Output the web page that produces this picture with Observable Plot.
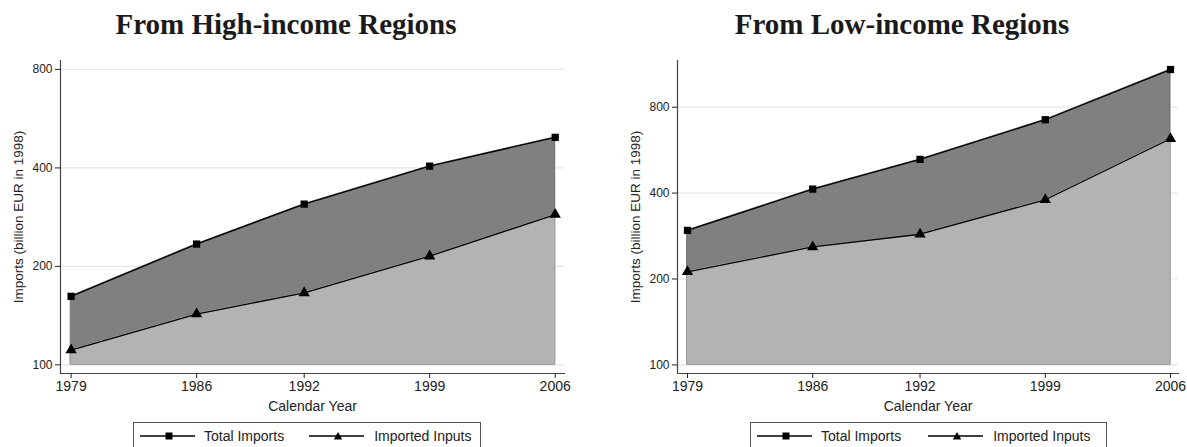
<!DOCTYPE html>
<html><head><meta charset="utf-8">
<script src="https://cdn.jsdelivr.net/npm/d3@7"></script>
<script src="https://cdn.jsdelivr.net/npm/@observablehq/plot@0.6"></script>
<style>
html,body{margin:0;padding:0;background:#fff;}
body{width:1187px;height:447px;overflow:hidden;position:relative;font-family:"Liberation Sans",Arial,sans-serif;color:#222;}
.panel{position:absolute;top:0;}
.title{position:absolute;top:10px;line-height:1;font-family:"Liberation Serif","Times New Roman",serif;font-weight:bold;font-size:29px;color:#1a1a1a;white-space:nowrap;transform:translateX(-50%);}
.legend{position:absolute;top:422px;height:34px;border:1px solid #555;box-sizing:border-box;display:flex;align-items:flex-start;padding-top:4px;background:#fff;font-size:14px;color:#222;}
.legend .item{display:flex;align-items:center;height:18px;}
.legend svg{display:block;}
g[aria-label="y-axis label"] text{font-size:13.5px;}
</style>
</head><body>
<div id="root"></div>
<script>
const years = [1979, 1986, 1992, 1999, 2006];
const highTotal = [162, 234, 310, 405, 496];
const highInputs = [111, 143, 166, 215, 288];
const lowTotal = [296, 413, 525, 723, 1084];
const lowInputs = [212, 259, 287, 379, 620];
const yTicks = [100, 200, 400, 800];
const titles = ["From High-income Regions", "From Low-income Regions"];
const seriesNames = ["Total Imports", "Imported Inputs"];
const yLabel = "Imports (billion EUR in 1998)";
const xLabel = "Calendar Year";

function makePanel(total, inputs, cfg) {
  const data = years.map((y, i) => ({year: y, total: total[i], inputs: inputs[i]}));
  return Plot.plot({
    width: cfg.width, height: 420,
    marginLeft: 60, marginRight: cfg.marginRight, marginTop: 60, marginBottom: 47,
    x: {domain: [years[0], years[years.length - 1]], insetLeft: cfg.insetLeft, insetRight: cfg.insetRight},
    y: {type: "log", domain: cfg.yDomain},
    style: {fontFamily: "'Liberation Sans', Arial, sans-serif", color: "#222", background: "transparent", overflow: "visible"},
    marks: [
      Plot.gridY(yTicks, {stroke: "#e6e6e6", strokeOpacity: 1, strokeWidth: 1.2}),
      Plot.areaY(data, {x: "year", y1: yTicks[0], y2: "total", fill: "#808080", stroke: "#6c6c6c", strokeWidth: 1}),
      Plot.areaY(data, {x: "year", y1: yTicks[0], y2: "inputs", fill: "#b3b3b3", stroke: "#a2a2a2", strokeWidth: 1}),
      Plot.lineY(data, {x: "year", y: "total", stroke: "#000", strokeWidth: 1.3}),
      Plot.lineY(data, {x: "year", y: "inputs", stroke: "#000", strokeWidth: 1.3}),
      Plot.dot(data, {x: "year", y: "total", symbol: "square", r: 4.1, fill: "#000", stroke: "none"}),
      Plot.dot(data, {x: "year", y: "inputs", symbol: "triangle", r: 4.2, fill: "#000", stroke: "none"}),
      Plot.frame({anchor: "left", stroke: "#444", strokeWidth: 1.2}),
      Plot.frame({anchor: "bottom", stroke: "#444", strokeWidth: 1.2}),
      Plot.axisY(yTicks, {tickSize: 5, tickPadding: 3, fontSize: 12, tickFormat: d => String(d),
        label: yLabel, labelAnchor: "center", labelArrow: "none", labelOffset: 47}),
      Plot.axisX(years, {tickSize: 5, tickPadding: 3, fontSize: 14, tickFormat: d => String(d),
        label: xLabel, labelAnchor: "center", labelArrow: "none", labelOffset: 37})
    ]
  });
}

function legendSample(symbol) {
  const s = symbol === "square"
    ? `<rect x="25.5" y="2.5" width="7" height="7" fill="#000"/>`
    : `<path d="M29,2 L33.2,9.5 L24.8,9.5 Z" fill="#000"/>`;
  return `<svg width="55" height="12"><line x1="0" x2="55" y1="6" y2="6" stroke="#000" stroke-width="1.3"/>${s}</svg>`;
}

const root = document.getElementById("root");
const panels = [
  {total: highTotal, inputs: highInputs, left: 0, cfg: {width: 593, marginRight: 29, insetLeft: 10.6, insetRight: 9.3, yDomain: [94.1, 852]},
   titleX: 286, legend: {left: 133, width: 348, pad: 6, gap: 25}},
  {total: lowTotal, inputs: lowInputs, left: 617, cfg: {width: 570, marginRight: 9, insetLeft: 10, insetRight: 8, yDomain: [93.3, 1166]},
   titleX: 902, legend: {left: 750, width: 357, pad: 6, gap: 27}}
];
panels.forEach((p, k) => {
  const div = document.createElement("div");
  div.className = "panel";
  div.style.left = p.left + "px";
  div.appendChild(makePanel(p.total, p.inputs, p.cfg));
  document.body.appendChild(div);
  const t = document.createElement("div");
  t.className = "title";
  t.style.left = p.titleX + "px";
  t.textContent = titles[k];
  document.body.appendChild(t);
  const lg = document.createElement("div");
  lg.className = "legend";
  lg.style.left = p.legend.left + "px";
  lg.style.width = p.legend.width + "px";
  lg.style.paddingLeft = p.legend.pad + "px";
  lg.innerHTML =
    `<div class="item">${legendSample("square")}<span style="margin-left:9px">${seriesNames[0]}</span></div>` +
    `<div class="item" style="margin-left:${p.legend.gap}px">${legendSample("triangle")}<span style="margin-left:10px">${seriesNames[1]}</span></div>`;
  document.body.appendChild(lg);
});
</script>
</body></html>
